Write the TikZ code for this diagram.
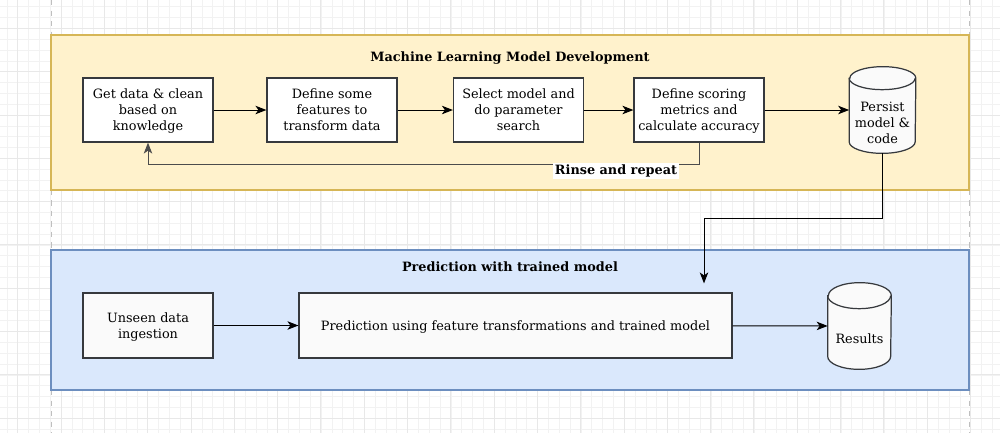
\documentclass[tikz,border=0pt]{standalone}
\usepackage{fontspec}
\setmainfont{DejaVu Serif}
\usetikzlibrary{arrows.meta, positioning, calc}

\definecolor{mlfill}{HTML}{FFF2CC}
\definecolor{mlline}{HTML}{D6B656}
\definecolor{predfill}{HTML}{DAE8FC}
\definecolor{predline}{HTML}{6C8EBF}
\definecolor{boxline}{HTML}{36393D}
\definecolor{offwhite}{HTML}{FAFAFA}

% cylinder drawn round an empty node: #1 name, #2 half height of the top ellipse
\newcommand{\drawstore}[2]{%
    \draw[storeline] (#1.north west) ++(0,#2) -- ($(#1.south west)+(0,-#2)$)
        arc[start angle=180, end angle=0, x radius=\storerx, y radius=#2]
        -- ($(#1.north east)+(0,#2)$)
        arc[start angle=0, end angle=-180, x radius=\storerx, y radius=#2] -- cycle;
    \draw[storeline, fill=none] (#1.north west) ++(0,#2)
        arc[start angle=180, end angle=0, x radius=\storerx, y radius=#2];
}

\begin{document}
\begin{tikzpicture}[
    x=0.02cm, y=-0.02cm,
    every node/.style={font=\fontsize{7.3}{9.1}\selectfont},
    minorgrid/.style={draw=black!5, line width=0.3pt},
    majorgrid/.style={draw=black!9, line width=0.4pt},
    pageedge/.style={draw=black!25, dashed, line width=0.5pt},
    group/.style={
        draw,
        line width=0.6pt,
    },
    heading/.style={
        font=\fontsize{7.3}{9.1}\selectfont\bfseries,
    },
    stage/.style={
        rectangle,
        draw=boxline,
        fill=white,
        line width=0.7pt,
        minimum width=2.6cm,
        minimum height=1.28cm,
        align=center,
        inner sep=1pt,
        text depth=-1.6pt,
    },
    store/.style={
        rectangle,
        inner sep=0pt,
    },
    storeline/.style={
        draw=boxline,
        fill=offwhite,
        line width=0.7pt,
    },
    conn/.style={
        line width=0.55pt,
        -{Stealth[length=2.2mm, width=1.7mm, inset=0.6mm]},
    },
    loopnote/.style={
        fill=white,
        inner sep=1pt,
        font=\fontsize{7.3}{9.1}\selectfont\bfseries,
    }
]
    \useasboundingbox (0,0) rectangle (1000,433);
    \fill[white] (0,0) rectangle (1000,433);

    % Grid
    \foreach \i in {0,...,92}
        \draw[minorgrid] ({6.87+10.83*\i},0) -- ++(0,433);
    \foreach \j in {0,...,39}
        \draw[minorgrid] (0,{6.64+10.83*\j}) -- ++(1000,0);
    \foreach \i in {0,...,22}
        \draw[majorgrid] ({17.7+43.3*\i},0) -- ++(0,433);
    \foreach \j in {0,...,9}
        \draw[majorgrid] (0,{28.3+43.3*\j}) -- ++(1000,0);
    \draw[pageedge] (51,0) -- (51,433);
    \draw[pageedge] (969,0) -- (969,433);

    % Containers
    \draw[group, draw=mlline, fill=mlfill] (51,35) rectangle (969,190);
    \draw[group, draw=predline, fill=predfill] (51,250) rectangle (969,390);
    \node[heading] (mltitle) at (510,58) {Machine Learning Model Development};
    \node[heading] (predtitle) at (510,267) {Prediction with trained model};

    % Model development
    \node[stage] (getdata) at (148,110) {Get data \& clean\\based on\\knowledge};
    \node[stage] (features) at (332,110) {Define some\\features to\\transform data};
    \node[stage] (select) at (518.5,110) {Select model and\\do parameter\\search};
    \node[stage] (metrics) at (699,110) {Define scoring\\metrics and\\calculate accuracy};
    \def\storerx{33}
    \node[store, minimum width=1.32cm, minimum height=1.72cm] (persist) at (882.5,110) {};
    \drawstore{persist}{11.5}
    \node[align=center] (persisttext) at (882.5,123) {Persist\\model \&\\code};

    % Prediction
    \node[stage, fill=offwhite, minimum height=1.3cm] (unseen) at (148,325.5) {Unseen data\\ingestion};
    \node[stage, fill=offwhite, minimum width=8.66cm, minimum height=1.3cm] (predict) at (515.5,325.5)
        {Prediction using feature transformations and trained model};
    \def\storerx{31.5}
    \node[store, minimum width=1.26cm, minimum height=1.72cm] (results) at (859.5,326) {};
    \drawstore{results}{13}
    \node (resultstext) at (859.5,339) {Results};

    % Connectors
    \draw[conn] (getdata) -- (features);
    \draw[conn] (features) -- (select);
    \draw[conn] (select) -- (metrics);
    \draw[conn] (metrics) -- (persist);
    \draw[conn, draw=black!70] (metrics.south) -- ++(0,22) -| (getdata.south);
    \node[loopnote, anchor=north] (rinse) at (616,163) {Rinse and repeat};
    \coordinate (bend) at (704,218);
    \draw[conn, shorten >=0.18cm] (persist.south) |- (bend) -- (bend |- predict.north);
    \draw[conn] (unseen) -- (predict);
    \draw[conn] (predict) -- (results);
\end{tikzpicture}
\end{document}
